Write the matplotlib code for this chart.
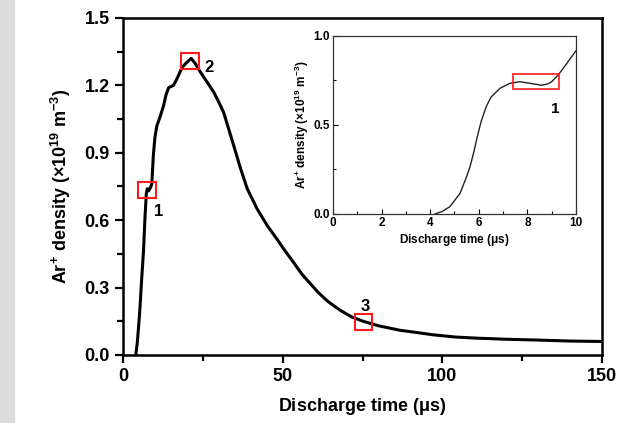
# import packages
import matplotlib
matplotlib.use("Agg")
import matplotlib.pyplot as plt
from matplotlib.patches import Rectangle
from matplotlib.ticker import MultipleLocator

plt.rcParams["font.family"] = ["Liberation Sans", "DejaVu Sans"]
plt.rcParams["font.weight"] = "bold"
plt.rcParams["mathtext.fontset"] = "custom"
plt.rcParams["mathtext.rm"] = "Liberation Sans:bold"
plt.rcParams["mathtext.it"] = "Liberation Sans:bold"
plt.rcParams["mathtext.bf"] = "Liberation Sans:bold"

# main curve (time in us, density in 1e19 m^-3)
main_t = [4.0, 4.5, 5.0, 5.35, 5.8, 6.4, 6.9, 7.3, 7.6, 8.0, 8.6, 9.0, 9.5,
          10.0, 10.6, 11.6, 12.7, 13.5, 14.3, 15.8, 16.9, 18.5, 19.8, 21.3,
          22.5, 24.2, 26.3, 28.4, 30.0, 31.5, 33.0, 34.7, 36.8, 38.9, 42.0,
          45.2, 48.0, 50.4, 53.0, 56.0, 61.0, 64.0, 67.9, 71.5, 75.2, 80.0,
          86.7, 92.0, 97.0, 104.0, 110.6, 120.0, 128.4, 140.0, 150.0]
main_n = [0.0, 0.06, 0.15, 0.22, 0.33, 0.46, 0.62, 0.72, 0.74, 0.73, 0.745,
          0.76, 0.89, 0.97, 1.02, 1.06, 1.11, 1.16, 1.19, 1.20, 1.23, 1.28,
          1.30, 1.32, 1.30, 1.26, 1.215, 1.17, 1.125, 1.08, 1.01, 0.93, 0.83,
          0.74, 0.65, 0.575, 0.52, 0.47, 0.42, 0.36, 0.28, 0.24, 0.20, 0.17,
          0.15, 0.13, 0.11, 0.10, 0.09, 0.08, 0.075, 0.07, 0.067, 0.062, 0.06]

# inset curve (first 10 us)
inset_t = [4.2, 4.5, 4.81, 5.0, 5.23, 5.5, 5.64, 5.8, 5.95, 6.1, 6.3, 6.5,
           6.87, 7.28, 7.69, 8.1, 8.59, 8.85, 9.0, 9.27, 9.6, 10.0]
inset_n = [0.0, 0.015, 0.041, 0.075, 0.116, 0.21, 0.265, 0.35, 0.44, 0.52,
           0.60, 0.655, 0.705, 0.733, 0.742, 0.733, 0.722, 0.73, 0.742, 0.78,
           0.84, 0.916]

# marked points: (label, x, y)
main_marks = [("1", 7.5, 0.735), ("2", 21.0, 1.31), ("3", 75.2, 0.146)]
main_mark_labels = [(11.2, 0.64), (26.8, 1.28), (76.0, 0.215)]


fig = plt.figure(figsize=(6.29, 4.23), dpi=100)
fig.patches.append(Rectangle((0, 0), 14 / 629, 1, transform=fig.transFigure,
                             color="#dcdcdc", zorder=0))

ax = fig.add_axes([0.1956, 0.1608, 0.7615, 0.7967])
ax.plot(main_t, main_n, color="black", lw=2.2)
ax.set_xlim(0, 150)
ax.set_ylim(0, 1.5)
ax.xaxis.set_major_locator(MultipleLocator(50))
ax.xaxis.set_minor_locator(MultipleLocator(25))
ax.yaxis.set_major_locator(MultipleLocator(0.3))
ax.yaxis.set_minor_locator(MultipleLocator(0.15))
ax.yaxis.set_major_formatter(plt.FuncFormatter(lambda v, _: f"{v:.1f}"))
ax.tick_params(which="both", direction="out", width=1.6, labelsize=13,
               top=False, right=False)
ax.tick_params(which="major", length=6)
ax.tick_params(which="minor", length=4)
for s in ax.spines.values():
    s.set_linewidth(1.8)
ax.set_xlabel(r"Discharge time ($\mu$s)", fontsize=13, fontweight="bold",
              labelpad=8)
ax.set_ylabel(r"Ar$^{+}$ density (×10$^{19}$ m$^{-3}$)", fontsize=13,
              fontweight="bold", labelpad=8)

# red boxes on main curve
for (lab, x, y), (lx, ly) in zip(main_marks, main_mark_labels):
    ax.add_patch(Rectangle((x - 2.7, y - 0.036), 5.4, 0.072, fill=False,
                           edgecolor="#ff1a1a", lw=1.5, zorder=3))
    ax.text(lx, ly, lab, fontsize=12, fontweight="bold", ha="center",
            va="center")

# inset
axi = fig.add_axes([0.5294, 0.4941, 0.3863, 0.4215])
axi.plot(inset_t, inset_n, color="#222222", lw=1.0)
axi.set_xlim(0, 10)
axi.set_ylim(0, 1.0)
axi.xaxis.set_major_locator(MultipleLocator(2))
axi.xaxis.set_minor_locator(MultipleLocator(1))
axi.yaxis.set_major_locator(MultipleLocator(0.5))
axi.yaxis.set_minor_locator(MultipleLocator(0.25))
axi.tick_params(which="both", direction="in", width=0.8, labelsize=8.5,
                top=False, right=False, pad=2)
axi.tick_params(which="major", length=3.5)
axi.tick_params(which="minor", length=2.5)
for s in axi.spines.values():
    s.set_linewidth(0.9)
    s.set_color("#333333")
axi.set_xlabel(r"Discharge time ($\mu$s)", fontsize=8.5, fontweight="bold",
               labelpad=2)
axi.set_ylabel(r"Ar$^{+}$ density (×10$^{19}$ m$^{-3}$)", fontsize=8.5,
               fontweight="bold", labelpad=2)
axi.add_patch(Rectangle((7.42, 0.70), 1.87, 0.085, fill=False,
                        edgecolor="#ff1a1a", lw=1.2, zorder=3))
axi.text(9.13, 0.59, "1", fontsize=11, fontweight="bold", ha="center",
         va="center")

plt.savefig("out.png", dpi=100)
